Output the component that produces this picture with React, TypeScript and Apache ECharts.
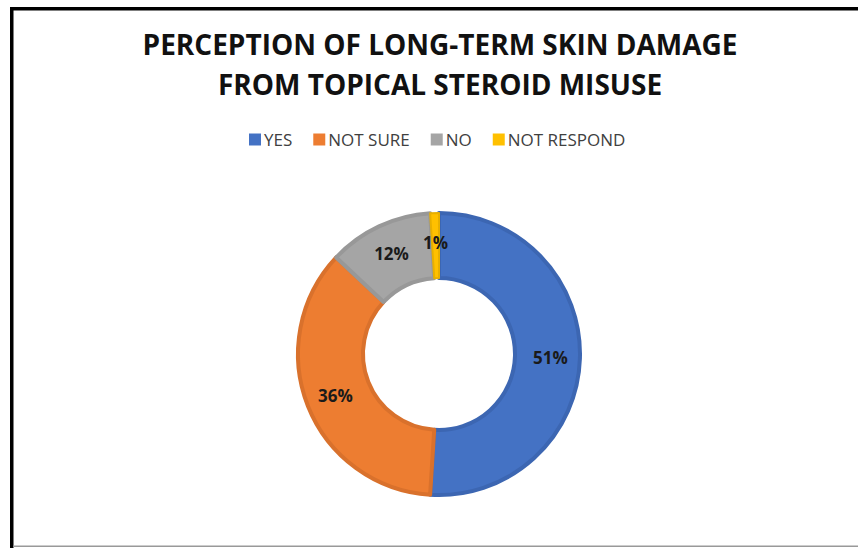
import React, { useEffect, useRef } from "react";
import * as echarts from "echarts";

const titleLines = ["PERCEPTION OF LONG-TERM SKIN DAMAGE", "FROM TOPICAL STEROID MISUSE"];
const categories = ["YES", "NOT SURE", "NO", "NOT RESPOND"];
const values = [51, 36, 12, 1];
const fillColors = ["#4472C4", "#ED7D31", "#A5A5A5", "#FFC000"];
const borderColors = ["#3C66B2", "#D9712C", "#989898", "#E8AF00"];

export default function App() {
  const ref = useRef<HTMLDivElement>(null);
  useEffect(() => {
    if (!ref.current) return;
    const chart = echarts.init(ref.current, undefined, { renderer: "svg" });
    const font = "'Open Sans', sans-serif";
    chart.setOption({
      animation: false,
      backgroundColor: "#ffffff",
      title: {
        text: titleLines.join("\n"),
        left: 440,
        textAlign: "center",
        top: 24,
        padding: 0,
        textStyle: {
          fontFamily: font,
          fontSize: 28,
          fontWeight: "bold",
          color: "#111111",
          lineHeight: 40,
        },
      },
      legend: {
        data: categories,
        top: 126,
        left: 244,
        icon: "rect",
        itemWidth: 12,
        itemHeight: 12,
        itemGap: 21,
        itemStyle: { borderWidth: 0 },
        textStyle: { fontFamily: font, fontSize: 17, color: "#404040", padding: [0, 0, 0, -2] },
      },
      graphic: [
        { type: "rect", shape: { x: 10, y: 7, width: 3.5, height: 541 }, style: { fill: "#000" } },
        { type: "rect", shape: { x: 10, y: 7, width: 848, height: 3.5 }, style: { fill: "#000" } },
        { type: "rect", shape: { x: 13, y: 545.5, width: 845, height: 1.5 }, style: { fill: "#999" } },
      ],
      series: [
        {
          type: "pie",
          center: [439, 354],
          radius: [76, 141],
          startAngle: 90,
          clockwise: true,
          avoidLabelOverlap: false,
          label: {
            show: true,
            position: "inside",
            formatter: "{c}%",
            fontFamily: font,
            fontSize: 17,
            fontWeight: "bold",
            color: "#1a1a1a",
          },
          labelLine: { show: false },
          emphasis: { disabled: true },
          data: categories.map((name, i) => ({
            name,
            value: values[i],
            itemStyle: {
              color: fillColors[i],
              borderColor: borderColors[i],
              borderWidth: i === 3 ? 2 : 4,
            },
          })),
        },
      ],
    });
    return () => chart.dispose();
  }, []);
  return (
    <div
      ref={ref}
      style={{ position: "absolute", left: 0, top: 0, width: 858, height: 548 }}
    />
  );
}
